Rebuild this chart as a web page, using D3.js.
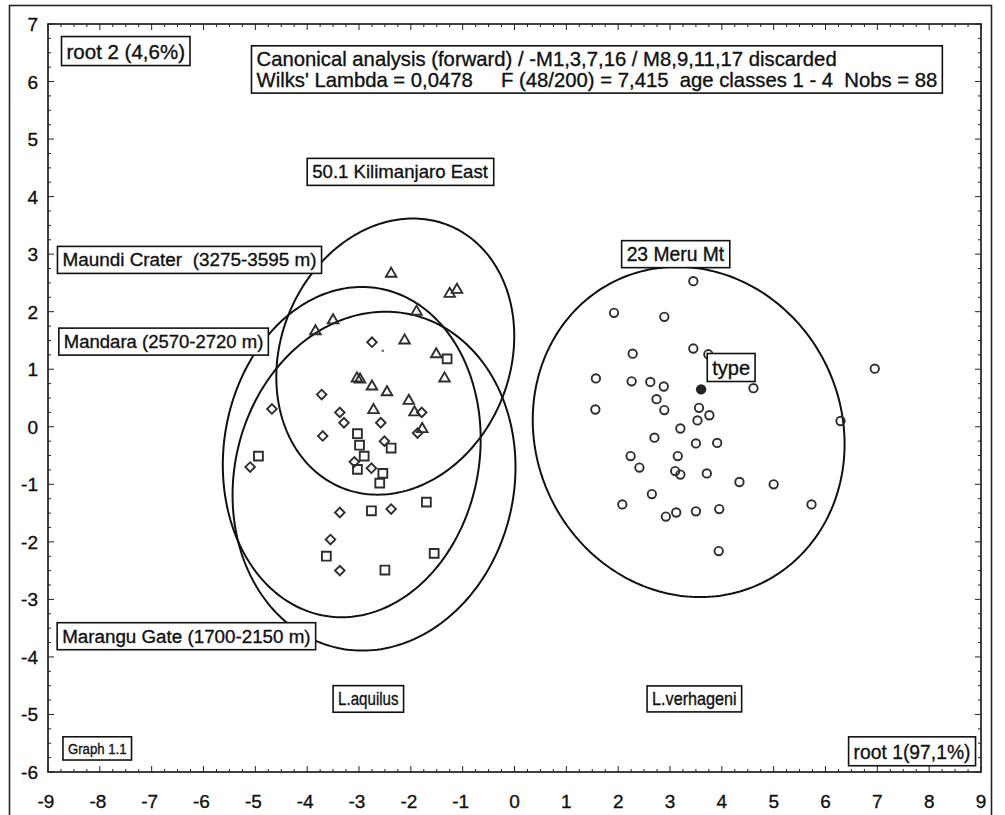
<!DOCTYPE html>
<html><head><meta charset="utf-8">
<script src="https://cdn.jsdelivr.net/npm/d3@7"></script>
<style>
html,body{margin:0;padding:0;background:#fff;}
text{font-family:"Liberation Sans",Arial,sans-serif;fill:#111;stroke:#111;stroke-width:0.35px;}
</style></head>
<body><svg id="chart" width="1005" height="815"></svg>
<script>
// ---------- data ----------
const xTicks = [-9,-8,-7,-6,-5,-4,-3,-2,-1,0,1,2,3,4,5,6,7,8,9];
const yTicks = [-6,-5,-4,-3,-2,-1,0,1,2,3,4,5,6,7];

// Maundi Crater (3275-3595 m) – triangles
const maundi = [[-2.38,2.66],[-1.25,2.31],[-1.11,2.38],[-1.89,2.00],[-3.50,1.85],[-3.84,1.66],
  [-2.12,1.50],[-1.51,1.26],[-1.35,0.84],[-3.04,0.84],[-2.98,0.82],[-2.75,0.70],[-2.46,0.60],
  [-2.04,0.45],[-2.72,0.29],[-1.93,0.25],[-1.78,-0.04]];
// Mandara (2570-2720 m) – diamonds
const mandara = [[-2.75,1.47],[-3.72,0.56],[-4.68,0.31],[-3.37,0.25],[-3.29,0.07],[-2.58,0.07],
  [-1.79,0.25],[-3.70,-0.16],[-2.51,-0.25],[-1.87,-0.11],[-3.09,-0.61],[-2.76,-0.72],[-5.10,-0.70],
  [-3.37,-1.49],[-2.38,-1.43],[-3.55,-1.96],[-3.37,-2.50]];
// Marangu Gate (1700-2150 m) – squares
const marangu = [[-3.03,-0.12],[-2.99,-0.32],[-2.90,-0.51],[-3.03,-0.74],[-2.38,-0.37],[-2.54,-0.81],
  [-2.60,-0.98],[-4.94,-0.51],[-1.70,-1.31],[-2.76,-1.46],[-3.63,-2.25],[-1.55,-2.20],[-2.50,-2.49],
  [-1.30,1.18]];
// 23 Meru Mt – circles
const meru = [[3.45,2.53],[1.92,1.98],[2.89,1.91],[2.28,1.27],[3.45,1.36],[3.74,1.26],[1.57,0.84],
  [2.26,0.79],[2.62,0.78],[2.88,0.70],[4.61,0.67],[6.95,1.01],[2.74,0.48],[1.56,0.30],[2.89,0.29],
  [3.56,0.33],[3.76,0.20],[3.53,0.11],[6.29,0.10],[3.20,-0.03],[2.70,-0.19],[3.50,-0.29],[3.91,-0.28],
  [2.24,-0.51],[3.15,-0.51],[2.41,-0.71],[3.10,-0.77],[3.20,-0.83],[3.71,-0.81],[4.34,-0.96],
  [5.00,-1.00],[2.65,-1.17],[2.08,-1.35],[5.73,-1.35],[3.12,-1.49],[2.92,-1.56],[3.50,-1.47],
  [3.95,-1.43],[3.94,-2.16]];
const typeSpecimen = [[3.60,0.65]];
const strayDot = [[-2.54,1.32]];

// confidence ellipses: centre, half-widths, shear of top point
const ellipseNames = ["Maundi","Mandara","Marangu","Meru"];
const ellipseCx = [-2.30,-3.14,-2.71,3.36];
const ellipseCy = [1.22,-0.44,-0.945,-0.09];
const ellipseRx = [2.27,2.48,2.72,3.00];
const ellipseRy = [2.40,2.87,2.945,2.87];
const ellipseShear = [0.34,0.195,0.225,-0.22];

// text labels (box centres in data units)
const labelTexts = [["root 2 (4,6%)"],
  ["Canonical analysis (forward) / -M1,3,7,16 / M8,9,11,17 discarded",
   "Wilks' Lambda = 0,0478     F (48/200) = 7,415  age classes 1 - 4  Nobs = 88"],
  ["50.1 Kilimanjaro East"],["Maundi Crater  (3275-3595 m)"],["Mandara (2570-2720 m)"],
  ["Marangu Gate (1700-2150 m)"],["L.aquilus"],["L.verhageni"],["Graph 1.1"],["root 1(97,1%)"],
  ["23 Meru Mt"],["type"]];
const labelX = [-7.50,1.59,-2.20,-6.27,-6.77,-6.33,-2.82,3.47,-8.05,7.67,3.11,4.18];
const labelY = [6.53,6.21,4.43,2.90,1.48,-3.64,-4.73,-4.73,-5.59,-5.64,3.00,1.03];
const labelSize = [20.5,20.3,18.6,18.9,18.5,18.8,18,18,15.5,21,19.3,20];
const labelStretch = [1,1,1,1,1,1,0.84,0.9,0.85,0.92,1,1];

// ---------- drawing ----------
const svg = d3.select("#chart");
const L = 48, R = 981, T = 24, B = 772;
const x = d3.scaleLinear().domain([-9,9]).range([L,R]);
const y = d3.scaleLinear().domain([-6,7]).range([B,T]);

svg.append("rect").attr("width",1005).attr("height",815).attr("fill","#fff");
// outer frame
svg.append("rect").attr("x",9.5).attr("y",5.5).attr("width",982).attr("height",840)
  .attr("fill","none").attr("stroke","#222").attr("stroke-width",1.6);
// plot frame
svg.append("rect").attr("x",L).attr("y",T).attr("width",R-L).attr("height",B-T)
  .attr("fill","none").attr("stroke","#111").attr("stroke-width",1.6);

// ticks (inward)
const minorX = d3.range(-9,9.001,0.25), minorY = d3.range(-6,7.001,0.25);
const tg = svg.append("g").attr("stroke","#222").attr("stroke-width",1);
minorX.forEach(v=>{
  const major = Math.abs(v-Math.round(v))<1e-6, len = major?6:3;
  tg.append("line").attr("x1",x(v)).attr("x2",x(v)).attr("y1",B).attr("y2",B-len);
  tg.append("line").attr("x1",x(v)).attr("x2",x(v)).attr("y1",T).attr("y2",T+len);
});
minorY.forEach(v=>{
  const major = Math.abs(v-Math.round(v))<1e-6, len = major?6:3;
  tg.append("line").attr("y1",y(v)).attr("y2",y(v)).attr("x1",L).attr("x2",L+len);
  tg.append("line").attr("y1",y(v)).attr("y2",y(v)).attr("x1",R).attr("x2",R-len);
});
svg.append("g").selectAll("text").data(xTicks).join("text")
  .attr("x",d=>x(d)-(d<0?2:0)).attr("y",808).attr("text-anchor","middle")
  .attr("font-size",19).text(d=>d);
svg.append("g").selectAll("text").data(yTicks).join("text")
  .attr("x",38).attr("y",d=>y(d)+7).attr("text-anchor","end")
  .attr("font-size",19).text(d=>d);

// ellipses
const ts = d3.range(0,2*Math.PI,Math.PI/120);
const line = d3.line().curve(d3.curveLinearClosed);
ellipseNames.forEach((n,i)=>{
  const pts = ts.map(t=>[x(ellipseCx[i]+ellipseRx[i]*Math.cos(t)+ellipseShear[i]*Math.sin(t)),
                         y(ellipseCy[i]+ellipseRy[i]*Math.sin(t))]);
  svg.append("path").attr("d",line(pts)).attr("fill","none")
    .attr("stroke","#111").attr("stroke-width",2);
});

// markers
const mk = {stroke:"#2e2e2e", w:1.9};
function drawSym(data, type, size, rot){
  svg.append("g").selectAll("path").data(data).join("path")
    .attr("d", d3.symbol().type(type).size(size)())
    .attr("transform", d=>`translate(${x(d[0])},${y(d[1])}) rotate(${rot})`)
    .attr("fill","none").attr("stroke",mk.stroke).attr("stroke-width",mk.w);
}
drawSym(maundi, d3.symbolTriangle, 48, 0);
drawSym(mandara, d3.symbolSquare, 46, 45);
drawSym(marangu, d3.symbolSquare, 78, 0);
svg.append("g").selectAll("circle").data(meru).join("circle")
  .attr("cx",d=>x(d[0])).attr("cy",d=>y(d[1])).attr("r",4.2)
  .attr("fill","none").attr("stroke",mk.stroke).attr("stroke-width",mk.w);
svg.append("g").selectAll("circle").data(typeSpecimen).join("circle")
  .attr("cx",d=>x(d[0])).attr("cy",d=>y(d[1])).attr("r",5.2).attr("fill","#222");
svg.append("g").selectAll("circle").data(strayDot).join("circle")
  .attr("cx",d=>x(d[0])).attr("cy",d=>y(d[1])).attr("r",1.3).attr("fill","#666");

// labels
labelTexts.forEach((lines,i)=>{
  const g = svg.append("g");
  const rect = g.append("rect");
  const fs = labelSize[i], sx = labelStretch[i];
  const txt = g.append("text").attr("font-size",fs).attr("xml:space","preserve")
    .style("white-space","pre").attr("transform",`scale(${sx},1)`);
  lines.forEach((s,k)=>txt.append("tspan").attr("x",0).attr("dy",k===0?0:fs*1.05).text(s));
  const bb0 = txt.node().getBBox();
  const bb = {x:bb0.x*sx, y:bb0.y, width:bb0.width*sx, height:bb0.height};
  const px = 5, py = lines.length>1?2:3;
  rect.attr("x",bb.x-px).attr("y",bb.y-py).attr("width",bb.width+2*px).attr("height",bb.height+2*py)
    .attr("fill","#fff").attr("stroke","#111").attr("stroke-width",1.6);
  const cx = bb.x+bb.width/2, cy = bb.y+bb.height/2;
  g.attr("transform",`translate(${x(labelX[i])-cx},${y(labelY[i])-cy})`);
});
</script></body></html>
